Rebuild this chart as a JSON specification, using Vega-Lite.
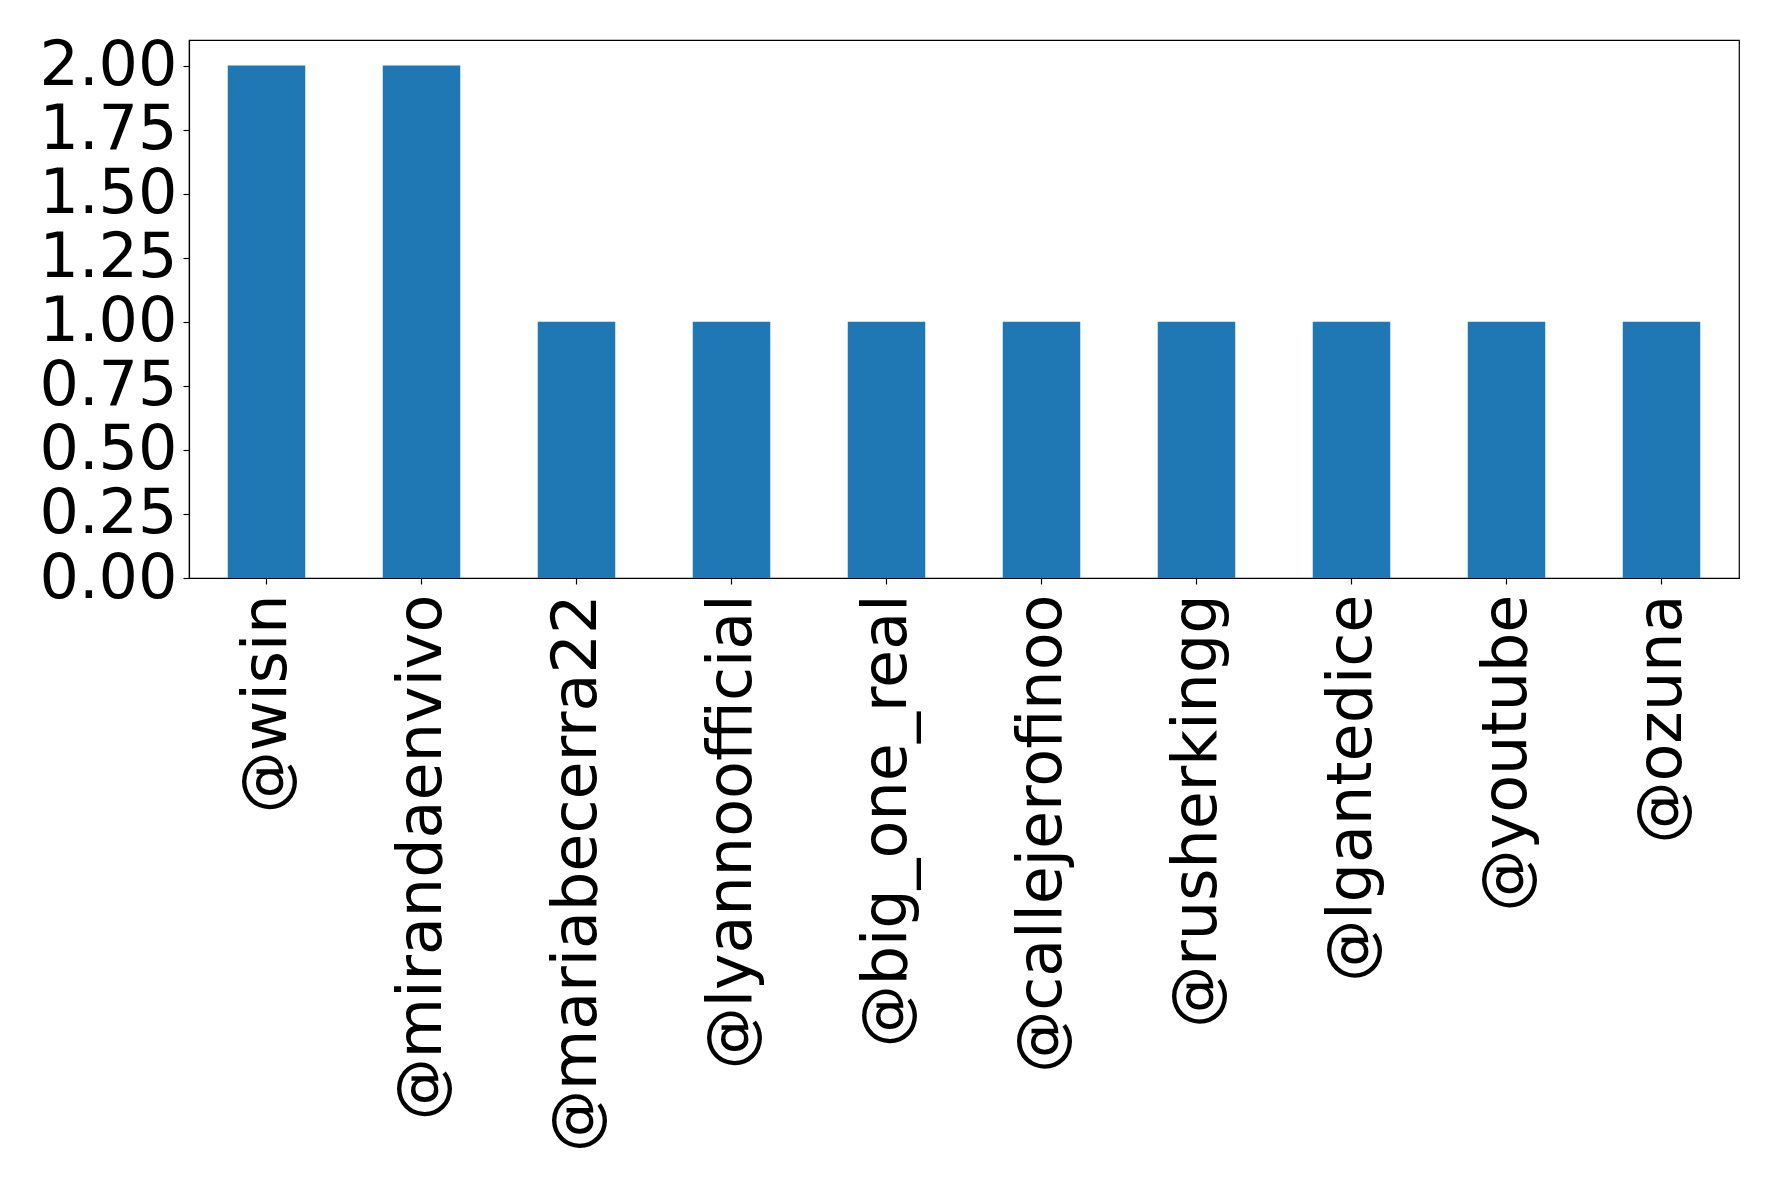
{
  "$schema": "https://vega.github.io/schema/vega-lite/v6.json",
  "autosize": "none",
  "padding": {"left": 189, "top": 40, "right": 39, "bottom": 612},
  "width": 1550,
  "height": 538,
  "background": "white",
  "config": {
    "view": {"stroke": "black", "strokeWidth": 1.2},
    "font": "DejaVu Sans"
  },
  "data": {
    "values": [
      {"user": "@wisin", "count": 2},
      {"user": "@mirandaenvivo", "count": 2},
      {"user": "@mariabecerra22", "count": 1},
      {"user": "@lyannoofficial", "count": 1},
      {"user": "@big_one_real", "count": 1},
      {"user": "@callejerofinoo", "count": 1},
      {"user": "@rusherkingg", "count": 1},
      {"user": "@lgantedice", "count": 1},
      {"user": "@youtube", "count": 1},
      {"user": "@ozuna", "count": 1}
    ]
  },
  "mark": {"type": "bar", "color": "#1f77b4"},
  "encoding": {
    "x": {
      "field": "user",
      "type": "nominal",
      "sort": null,
      "scale": {"paddingInner": 0.5, "paddingOuter": 0.25},
      "axis": {
        "title": null,
        "labelAngle": -90,
        "labelFont": "DejaVu Sans",
        "labelFontSize": 62,
        "labelColor": "black",
        "labelLimit": 0,
        "labelPadding": 10,
        "tickColor": "black",
        "tickSize": 6,
        "tickWidth": 1.2,
        "domainColor": "black",
        "domainWidth": 1.2,
        "grid": false
      }
    },
    "y": {
      "field": "count",
      "type": "quantitative",
      "scale": {"domain": [0, 2.1], "nice": false},
      "axis": {
        "title": null,
        "values": [0, 0.25, 0.5, 0.75, 1, 1.25, 1.5, 1.75, 2],
        "format": ".2f",
        "labelFont": "DejaVu Sans",
        "labelFontSize": 62,
        "labelColor": "black",
        "labelPadding": 6,
        "labelBaseline": "middle",
        "tickColor": "black",
        "tickSize": 6,
        "tickWidth": 1.2,
        "domainColor": "black",
        "domainWidth": 1.2,
        "grid": false
      }
    }
  }
}
